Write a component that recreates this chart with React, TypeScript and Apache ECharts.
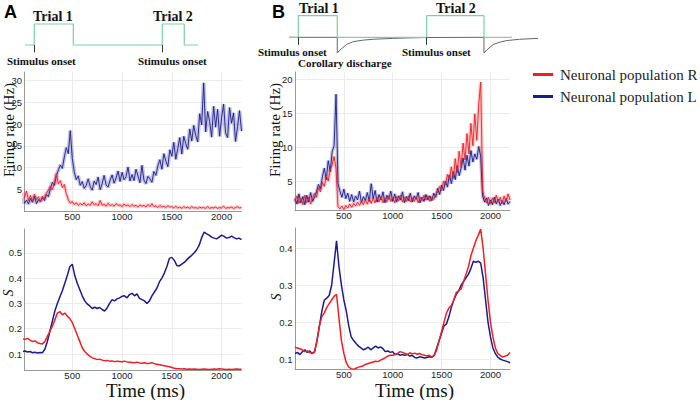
import React, { useEffect, useRef } from "react";
import * as echarts from "echarts";

// ---------- data ----------
const FIRING_STEP = 20; // ms between firing-rate samples
const S_STEP = 25; // ms between S samples

const firingA_L = [
  3.0, 1.8, 2.5, 1.6, 2.9, 2.0, 3.4, 1.7, 2.6, 2.2,
  3.1, 2.4, 3.8, 3.3, 5.2, 6.6, 5.9, 8.2, 9.4, 10.6,
  9.8, 12.4, 14.6, 13.2, 18.5, 12.1, 9.0, 7.2, 8.1, 5.9,
  6.8, 5.2, 5.9, 7.4, 5.6, 4.8, 6.9, 6.1, 7.8, 4.9,
  6.3, 8.2, 6.0, 5.5, 7.1, 8.3, 6.4, 7.6, 9.2, 6.8,
  8.9, 7.2, 7.9, 10.1, 6.9, 8.4, 7.0, 9.6, 8.1, 6.5,
  10.5, 7.1, 6.3, 8.0, 7.4, 6.6, 9.1, 8.2, 10.4, 11.8,
  9.6, 13.2, 11.5, 10.2, 14.1, 12.6, 15.8, 11.9, 14.4, 16.9,
  13.1, 17.2, 15.5, 14.2, 18.9, 16.1, 19.7, 17.4, 15.9, 22.4,
  19.8, 29.5, 18.2, 22.9, 20.6, 17.0, 24.1, 19.3, 23.4, 17.2,
  21.5, 24.6, 18.0, 16.9, 23.8, 20.2, 22.6, 16.0, 19.4, 23.1,
  18.4,
];
const firingA_R = [
  4.2, 3.1, 4.6, 2.4, 3.6, 2.2, 3.9, 2.6, 3.3, 2.1,
  3.4, 2.9, 4.1, 4.8, 5.6, 4.9, 6.4, 8.6, 6.2, 7.0,
  5.4, 6.1, 4.0, 2.6, 1.8, 2.2, 1.5, 1.9, 1.3, 1.7,
  1.4, 1.9, 1.2, 1.6, 1.3, 2.1, 1.4, 1.7, 1.2, 2.4,
  1.3, 1.6, 1.1, 1.8, 1.2, 1.5, 1.1, 1.7, 1.3, 1.4,
  1.0, 1.6, 1.2, 1.4, 1.0, 1.5, 1.1, 1.3, 0.9, 1.4,
  1.1, 1.3, 0.9, 1.5, 1.0, 1.7, 1.0, 1.2, 0.8, 1.3,
  0.9, 1.1, 0.8, 1.2, 0.9, 1.0, 0.7, 1.1, 0.7, 0.9,
  0.6, 1.0, 0.7, 0.9, 0.6, 1.0, 0.7, 0.8, 0.6, 0.9,
  0.7, 0.8, 0.6, 1.0, 0.6, 0.8, 0.7, 0.9, 0.6, 0.8,
  0.7, 1.1, 0.6, 0.8, 0.7, 0.9, 0.6, 0.8, 1.0, 0.7,
  0.8,
];
const firingB_L = [
  2.4, 1.6, 3.1, 1.8, 2.7, 1.5, 2.9, 1.9, 3.3, 2.0,
  2.6, 3.4, 4.5, 3.8, 5.6, 6.9, 5.2, 8.0, 6.4, 9.3,
  10.2, 17.8, 4.6, 3.5, 2.6, 3.8, 2.4, 3.2, 2.0, 3.0,
  1.9, 2.8, 2.2, 3.5, 1.8, 2.7, 2.1, 3.3, 2.0, 4.6,
  2.4, 3.6, 1.9, 3.0, 2.2, 3.4, 1.8, 2.9, 2.3, 3.5,
  2.0, 3.1, 1.9, 2.8, 2.2, 3.4, 1.8, 2.7, 2.1, 3.2,
  1.9, 2.8, 2.3, 3.3, 1.8, 2.6, 2.0, 3.0, 2.2, 2.8,
  2.1, 3.2, 2.6, 3.9, 3.0, 4.4, 3.6, 5.0, 4.1, 5.9,
  4.6, 6.4, 5.2, 7.3, 5.8, 6.9, 8.4, 6.6, 8.8, 7.2,
  9.5, 7.8, 9.0, 8.2, 10.1, 8.6, 2.8, 1.9, 2.5, 1.4,
  2.2, 1.5, 2.6, 1.6, 2.3, 1.4, 2.1, 1.5, 2.4, 1.6,
  2.0,
];
const firingB_R = [
  2.0, 2.8, 1.7, 2.5, 1.5, 2.9, 1.8, 2.6, 1.6, 2.4,
  3.2, 2.6, 4.0, 3.4, 4.8, 4.2, 5.8, 5.0, 6.6, 7.4,
  8.6, 6.8, 1.2, 0.9, 1.3, 0.8, 1.4, 1.0, 1.6, 1.1,
  1.7, 1.3, 1.9, 1.4, 2.0, 1.5, 2.2, 1.6, 2.4, 1.7,
  2.5, 1.8, 2.6, 1.9, 2.7, 1.8, 2.5, 1.9, 2.8, 2.0,
  2.6, 1.8, 2.7, 2.1, 2.9, 1.9, 2.6, 2.0, 2.8, 1.9,
  2.5, 2.0, 2.7, 1.8, 2.6, 2.1, 2.9, 2.2, 2.8, 2.0,
  2.6, 2.3, 3.0, 3.4, 4.2, 3.6, 5.0, 4.4, 6.0, 5.2,
  7.1, 5.4, 8.3, 6.2, 9.4, 7.0, 10.6, 8.1, 12.0, 9.0,
  13.5, 10.2, 14.9, 11.0, 16.2, 19.6, 3.6, 2.4, 1.8, 2.6,
  1.7, 2.5, 1.8, 2.9, 1.9, 2.6, 1.7, 2.8, 2.0, 3.1,
  2.2,
];

const sA_L = [
  0.11, 0.112, 0.108, 0.11, 0.105, 0.107, 0.104, 0.106, 0.105, 0.12,
  0.15, 0.19, 0.23, 0.27, 0.3, 0.325, 0.35, 0.38, 0.41, 0.445,
  0.455, 0.41, 0.38, 0.355, 0.33, 0.31, 0.298, 0.29, 0.28, 0.285,
  0.28, 0.284, 0.276, 0.27, 0.282, 0.3, 0.315, 0.31, 0.318, 0.322,
  0.328, 0.33, 0.322, 0.335, 0.34, 0.33, 0.338, 0.32, 0.315, 0.31,
  0.3, 0.31, 0.33, 0.345, 0.36, 0.385, 0.4, 0.42, 0.445, 0.478,
  0.482, 0.47, 0.45, 0.448, 0.455, 0.462, 0.472, 0.482, 0.49, 0.5,
  0.512, 0.53, 0.56, 0.582, 0.575, 0.57, 0.562, 0.558, 0.555, 0.562,
  0.57, 0.565, 0.558, 0.56, 0.566, 0.56, 0.555, 0.558, 0.552,
];
const sA_R = [
  0.16, 0.158, 0.162, 0.155, 0.15, 0.152, 0.145, 0.142, 0.14, 0.15,
  0.17, 0.19, 0.21, 0.235, 0.262, 0.268, 0.255, 0.262, 0.25, 0.24,
  0.225, 0.2, 0.175, 0.15, 0.125, 0.11, 0.1, 0.092, 0.085, 0.082,
  0.078, 0.08, 0.076, 0.074, 0.075, 0.072, 0.073, 0.07, 0.072, 0.071,
  0.07, 0.072, 0.069, 0.068, 0.067, 0.066, 0.068, 0.065, 0.064, 0.066,
  0.063, 0.064, 0.066, 0.062, 0.06, 0.058, 0.056, 0.054, 0.052, 0.05,
  0.047, 0.044, 0.042, 0.042, 0.041, 0.042, 0.04, 0.041, 0.04, 0.041,
  0.04, 0.039, 0.04, 0.041, 0.04, 0.039, 0.04, 0.041, 0.04, 0.042,
  0.041, 0.04, 0.039, 0.04, 0.039, 0.04, 0.041, 0.04, 0.04,
];
const sB_L = [
  0.115, 0.118, 0.112, 0.12, 0.125, 0.118, 0.122, 0.115, 0.12, 0.15,
  0.19, 0.23, 0.26, 0.265, 0.272, 0.3, 0.36, 0.42, 0.35, 0.3,
  0.26, 0.23, 0.19, 0.16, 0.15, 0.142, 0.135, 0.13, 0.125, 0.128,
  0.132, 0.125, 0.13, 0.135, 0.13, 0.133, 0.128, 0.12, 0.122, 0.118,
  0.12, 0.112, 0.115, 0.11, 0.112, 0.11, 0.113, 0.108, 0.11, 0.104,
  0.103, 0.106, 0.105, 0.103, 0.104, 0.106, 0.105, 0.11, 0.13, 0.15,
  0.17, 0.19, 0.195, 0.215, 0.24, 0.26, 0.275, 0.285, 0.3, 0.31,
  0.32, 0.33, 0.345, 0.365, 0.362, 0.365, 0.36, 0.32, 0.26, 0.2,
  0.16, 0.13, 0.115, 0.105, 0.1, 0.097, 0.095, 0.093, 0.09,
];
const sB_R = [
  0.132, 0.13, 0.128, 0.125, 0.12, 0.122, 0.118, 0.115, 0.118, 0.15,
  0.19, 0.215, 0.225, 0.24, 0.25, 0.26, 0.27, 0.275, 0.21, 0.15,
  0.115, 0.09, 0.078, 0.074, 0.072, 0.075, 0.078, 0.08, 0.082, 0.086,
  0.088, 0.09, 0.092, 0.094, 0.093, 0.097, 0.1, 0.104, 0.108, 0.11,
  0.11, 0.112, 0.115, 0.12, 0.118, 0.115, 0.112, 0.117, 0.114, 0.116,
  0.113, 0.115, 0.112, 0.11, 0.108, 0.11, 0.106, 0.11, 0.125, 0.15,
  0.175, 0.2, 0.225, 0.238, 0.245, 0.26, 0.28, 0.285, 0.29, 0.31,
  0.33, 0.35, 0.38, 0.4, 0.42, 0.435, 0.452, 0.4, 0.33, 0.26,
  0.2, 0.16, 0.13, 0.115, 0.11, 0.105, 0.108, 0.11, 0.118,
];

// stimulus schematics (time in ms, level 0 = baseline, 1 = stimulus on)
const stimA_trace = [[25, 0], [118, 0], [118, 1], [510, 1], [510, 0], [1404, 0], [1404, 1], [1625, 1], [1625, 0], [1763, 0]];
const stimA_onsets = [118, 1404];
const stimB_trace = [[-61, 0], [34, 0], [34, 1], [433, 1], [433, 0], [1348, 0], [1348, 1], [1934, 1], [1934, 0], [2221, 0]];
const stimB_onsets = [34, 1348];
const corollaryB = [
  [-61, 0], [433, 0], [433, -0.73], [460, -0.59], [529, -0.33], [597, -0.2], [700, -0.13], [801, -0.09],
  [1000, -0.05], [1143, -0.03], [1348, -0.01], [1934, 0], [1934, -0.73], [1962, -0.59], [2030, -0.33],
  [2100, -0.22], [2167, -0.15], [2300, -0.09], [2487, -0.05],
];
const corollaryDrop = 433;

// tick labels
const timeTicks = [500, 1000, 1500, 2000];
const firingA_ticks = [5, 10, 15, 20, 25, 30];
const firingB_ticks = [5, 10, 15, 20];
const sA_ticks = [0.1, 0.2, 0.3, 0.4, 0.5];
const sB_ticks = [0.1, 0.2, 0.3, 0.4];

const NAME_R = "Neuronal population R";
const NAME_L = "Neuronal population L";

// ---------- styles ----------
const RED = "#ee1f26";
const BLUE = "#1b1b8c";
const GREEN = "#7fcfaa";
const SERIF = "'Liberation Serif', 'Times New Roman', serif";
const SANS = "'Liberation Sans', Arial, sans-serif";

const toPairs = (vals: number[], step: number) => vals.map((v, i) => [i * step, v]);

export default function App() {
  const ref = useRef<HTMLDivElement>(null);

  useEffect(() => {
    document.body.style.margin = "0";
    if (!ref.current) return;
    const chart = echarts.init(ref.current, undefined, { renderer: "svg" });

    const xAxisPlot = (gridIndex: number, min: number) => ({
      type: "value",
      gridIndex,
      min,
      max: 2200,
      axisLine: { show: true, lineStyle: { color: "#999", width: 1 } },
      axisTick: { show: false, customValues: timeTicks },
      axisLabel: {
        customValues: timeTicks, fontSize: 9.5, lineHeight: 9.5, color: "#222", fontFamily: SANS, margin: 0.5,
        formatter: (v: number) => String(v),
      },
      splitLine: { show: true, lineStyle: { color: "#ececec", width: 1 } },
    });
    const yAxisPlot = (gridIndex: number, min: number, max: number, ticks: number[]) => ({
      type: "value",
      gridIndex,
      min,
      max,
      axisLine: { show: true, lineStyle: { color: "#999", width: 1 } },
      axisTick: { show: false, customValues: ticks },
      axisLabel: {
        customValues: ticks, fontSize: 9.5, color: "#222", fontFamily: SANS, margin: 2.5,
        formatter: (v: number) => String(v),
      },
      splitLine: { show: true, lineStyle: { color: "#ececec", width: 1 } },
    });
    const hiddenX = (gridIndex: number, min: number, max: number) => ({
      type: "value", gridIndex, min, max, show: false,
    });
    const hiddenY = (gridIndex: number) => ({
      type: "value", gridIndex, min: -1, max: 1.2, show: false,
    });
    // axis that only carries a rotated name
    const nameY = (gridIndex: number, name: string, gap: number, size: number, italic = false) => ({
      type: "value",
      gridIndex,
      min: 0,
      max: 1,
      name,
      nameLocation: "middle",
      nameRotate: 90,
      nameGap: gap,
      nameTextStyle: {
        fontFamily: SERIF, fontSize: size, color: "#111", lineHeight: size,
        fontStyle: italic ? "italic" : "normal",
      },
      axisLine: { show: false },
      axisTick: { show: false },
      axisLabel: { show: false },
      splitLine: { show: false },
    });

    const band = (vals: number[], step: number, idx: number, color: string, width: number) => ({
      type: "line",
      name: "_band",
      xAxisIndex: idx,
      yAxisIndex: idx,
      data: toPairs(vals, step),
      showSymbol: false,
      symbol: "none",
      silent: true,
      z: 1,
      lineStyle: { color, width, opacity: 0.25 },
      itemStyle: { color },
    });
    const main = (name: string, vals: number[], step: number, idx: number, color: string, width: number, z: number) => ({
      type: "line",
      name,
      xAxisIndex: idx,
      yAxisIndex: idx,
      data: toPairs(vals, step),
      showSymbol: false,
      symbol: "none",
      silent: true,
      z,
      lineStyle: { color, width },
      itemStyle: { color },
    });
    const onsetMarks = (onsets: number[]) => ({
      silent: true,
      symbol: ["none", "none"],
      label: { show: false },
      lineStyle: { color: "#333", width: 1, type: "solid" },
      data: onsets.map((t) => [{ coord: [t, 0] }, { coord: [t, -0.35] }]),
    });

    const label = (t: string, left: number, top: number, size: number, opts: any = {}) => ({
      text: t,
      left,
      top,
      padding: 0,
      itemGap: 0,
      textAlign: "left",
      textVerticalAlign: "top",
      textStyle: {
        fontFamily: opts.family || SERIF,
        fontSize: size,
        lineHeight: size,
        fontWeight: opts.weight || "normal",
        color: opts.color || "#111",
      },
    });

    const option: any = {
      animation: false,
      backgroundColor: "#fff",
      title: [
        label("A", 4, 3, 18, { family: SANS, weight: "bold", color: "#000" }),
        label("B", 272, 3, 18, { family: SANS, weight: "bold", color: "#000" }),
        label("Trial 1", 33, 9.2, 14, { weight: "bold" }),
        label("Trial 2", 153, 9.2, 14, { weight: "bold" }),
        label("Stimulus onset", 7, 55.4, 11, { weight: "bold" }),
        label("Stimulus onset", 138, 55.4, 11, { weight: "bold" }),
        label("Trial 1", 299, 1.6, 14, { weight: "bold" }),
        label("Trial 2", 436, 1.6, 14, { weight: "bold" }),
        label("Stimulus onset", 258, 46.4, 11, { weight: "bold" }),
        label("Stimulus onset", 402, 46.4, 11, { weight: "bold" }),
        label("Corollary discharge", 298, 57.4, 11, { weight: "bold" }),
        label("Time (ms)", 106, 381, 19),
        label("Time (ms)", 375, 380.5, 19),
      ],
      grid: [
        { left: 24.5, top: 72, width: 217, height: 139 }, // 0 A firing
        { left: 24.5, top: 229, width: 217, height: 141 }, // 1 A S
        { left: 295, top: 72, width: 215, height: 138.7 }, // 2 B firing
        { left: 295, top: 228, width: 215, height: 141 }, // 3 B S
        { left: 24.5, top: 19.8, width: 217, height: 46.2 }, // 4 A stimulus
        { left: 289, top: 11.4, width: 249, height: 47.5 }, // 5 B stimulus
        { left: 24.5, top: 80, width: 10, height: 100 }, // 6 name holder: A firing
        { left: 295, top: 80, width: 10, height: 100 }, // 7 name holder: B firing
        { left: 24.5, top: 243, width: 10, height: 100 }, // 8 name holder: A S
        { left: 295, top: 247, width: 10, height: 100 }, // 9 name holder: B S
      ],
      xAxis: [
        xAxisPlot(0, 20),
        xAxisPlot(1, 20),
        xAxisPlot(2, 0),
        xAxisPlot(3, 0),
        hiddenX(4, 20, 2200),
        hiddenX(5, -61, 2487),
        hiddenX(6, 0, 1),
        hiddenX(7, 0, 1),
        hiddenX(8, 0, 1),
        hiddenX(9, 0, 1),
      ],
      yAxis: [
        yAxisPlot(0, 0, 32, firingA_ticks),
        yAxisPlot(1, 0.037, 0.594, sA_ticks),
        yAxisPlot(2, 0.62, 21.08, firingB_ticks),
        yAxisPlot(3, 0.073, 0.455, sB_ticks),
        hiddenY(4),
        hiddenY(5),
        nameY(6, "Firing rate (Hz)", 12.5, 15),
        nameY(7, "Firing rate (Hz)", 12.5, 15),
        nameY(8, "S", 13, 14, true),
        nameY(9, "S", 11.5, 14, true),
      ],
      legend: {
        data: [NAME_R, NAME_L],
        orient: "vertical",
        left: 533,
        top: 67,
        padding: 0,
        icon: "rect",
        itemWidth: 20,
        itemHeight: 3,
        itemGap: 7,
        selectedMode: false,
        textStyle: { fontFamily: SERIF, fontSize: 15, color: "#222", padding: [0, 0, 0, 2] },
      },
      series: [
        // A firing
        band(firingA_L, FIRING_STEP, 0, BLUE, 4),
        band(firingA_R, FIRING_STEP, 0, RED, 3.5),
        main(NAME_L, firingA_L, FIRING_STEP, 0, BLUE, 0.9, 3),
        main(NAME_R, firingA_R, FIRING_STEP, 0, RED, 0.9, 4),
        // A S
        main(NAME_L, sA_L, S_STEP, 1, BLUE, 1.5, 3),
        main(NAME_R, sA_R, S_STEP, 1, RED, 1.5, 4),
        // B firing
        band(firingB_L, FIRING_STEP, 2, BLUE, 3.5),
        band(firingB_R, FIRING_STEP, 2, RED, 3.5),
        main(NAME_L, firingB_L, FIRING_STEP, 2, BLUE, 0.9, 3),
        main(NAME_R, firingB_R, FIRING_STEP, 2, RED, 0.9, 4),
        // B S
        main(NAME_L, sB_L, S_STEP, 3, BLUE, 1.5, 3),
        main(NAME_R, sB_R, S_STEP, 3, RED, 1.5, 4),
        // A stimulus
        {
          type: "line", name: "_stimA", xAxisIndex: 4, yAxisIndex: 4, data: stimA_trace,
          showSymbol: false, symbol: "none", silent: true, clip: false,
          lineStyle: { color: GREEN, width: 1.2 },
          markLine: onsetMarks(stimA_onsets),
        },
        // B stimulus: corollary discharge (grey) and stimulus (green)
        {
          type: "line", name: "_corB", xAxisIndex: 5, yAxisIndex: 5, data: corollaryB,
          showSymbol: false, symbol: "none", silent: true, clip: false,
          lineStyle: { color: "#666", width: 1 },
          markLine: {
            silent: true, symbol: ["none", "none"], label: { show: false },
            lineStyle: { color: "#666", width: 1, type: "solid" },
            data: [[{ coord: [corollaryDrop, -0.73] }, { coord: [corollaryDrop, -1.98] }]],
          },
        },
        {
          type: "line", name: "_stimB", xAxisIndex: 5, yAxisIndex: 5, data: stimB_trace,
          showSymbol: false, symbol: "none", silent: true, clip: false,
          lineStyle: { color: GREEN, width: 1.2 },
          markLine: onsetMarks(stimB_onsets),
        },
      ],
    };

    chart.setOption(option);
    return () => chart.dispose();
  }, []);

  return <div ref={ref} style={{ width: 700, height: 400 }} />;
}
